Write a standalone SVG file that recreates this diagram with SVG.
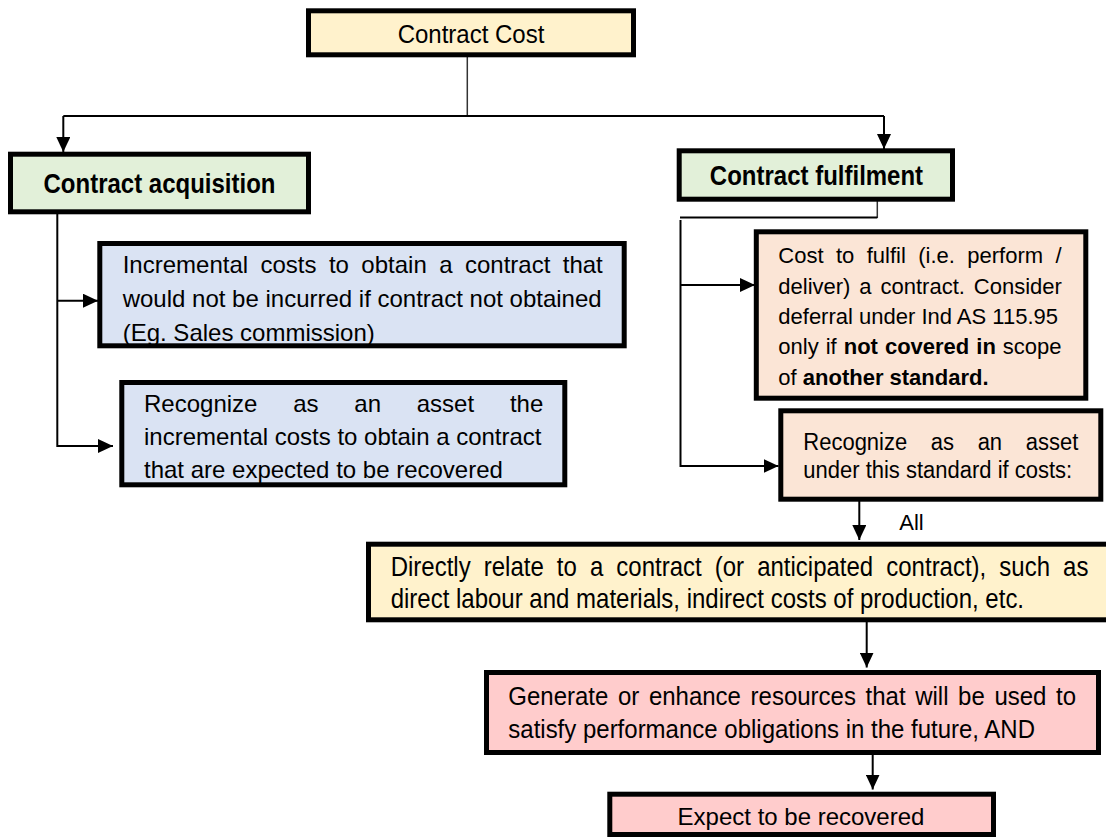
<svg xmlns="http://www.w3.org/2000/svg" width="1106" height="838" viewBox="0 0 1106 838">
<style>
  .box { stroke: #000; stroke-width: 5; }
  .yellow { fill: #FFF2CC; }
  .green { fill: #E2F0D9; }
  .blue { fill: #DAE3F3; }
  .peach { fill: #FBE5D6; }
  .pink { fill: #FFCCCC; }
  text { font-family: "Liberation Sans", Arial, sans-serif; fill: #000; }
  .t24 { font-size: 24px; }
  .t22 { font-size: 22px; }
  .b { font-weight: bold; }
  .mid { text-anchor: middle; }
  .conn { stroke: #000; stroke-width: 2; fill: none; }
  .thin { stroke: #333; stroke-width: 1.5; fill: none; }
</style>
<defs>
  <marker id="arr" markerUnits="userSpaceOnUse" markerWidth="15" markerHeight="14" refX="15" refY="7" orient="auto">
    <path d="M0,0 L15,7 L0,14 Z" fill="#000"/>
  </marker>
</defs>
<rect width="1106" height="838" fill="#fff"/>

<g id="connectors">
  <line class="thin" x1="467.3" y1="57" x2="467.3" y2="116"/>
  <line class="conn" x1="63.3" y1="116" x2="884" y2="116"/>
  <line class="conn" x1="63.3" y1="116" x2="63.3" y2="152" marker-end="url(#arr)"/>
  <line class="conn" x1="884" y1="116" x2="884" y2="149" marker-end="url(#arr)"/>
  <line class="conn" x1="57.3" y1="214" x2="57.3" y2="447"/>
  <line class="conn" x1="57.3" y1="300.7" x2="98" y2="300.7" marker-end="url(#arr)"/>
  <line class="conn" x1="57.3" y1="446" x2="113" y2="446" marker-end="url(#arr)"/>
  <line class="thin" x1="877.3" y1="201" x2="877.3" y2="218"/>
  <line class="conn" x1="680" y1="217.5" x2="877.3" y2="217.5"/>
  <line class="conn" x1="680.5" y1="220" x2="680.5" y2="467"/>
  <line class="conn" x1="680.5" y1="285" x2="755" y2="285" marker-end="url(#arr)"/>
  <line class="conn" x1="680.5" y1="466" x2="778.5" y2="466" marker-end="url(#arr)"/>
  <line class="conn" x1="859.3" y1="501" x2="859.3" y2="540" marker-end="url(#arr)"/>
  <line class="conn" x1="866.7" y1="622" x2="866.7" y2="667.5" marker-end="url(#arr)"/>
  <line class="conn" x1="872.7" y1="755" x2="872.7" y2="789.5" marker-end="url(#arr)"/>
</g>

<g id="contract-cost">
  <rect class="box yellow" x="308.5" y="10.8" width="325" height="44"/>
  <text class="t24 mid" x="471" y="43.3" transform="matrix(1,0,0,1.06,0,-2.6)">Contract Cost</text>
</g>

<g id="contract-acquisition">
  <rect class="box green" x="10.5" y="154.2" width="298" height="57.6"/>
  <text class="t24 b mid" x="159.5" y="193.3" transform="matrix(1,0,0,1.12,0,-23.2)">Contract acquisition</text>
</g>

<g id="contract-fulfilment">
  <rect class="box green" x="679.2" y="150.8" width="273.3" height="48.4"/>
  <text class="t24 b mid" x="816.5" y="185" transform="matrix(1,0,0,1.12,0,-22.2)">Contract fulfilment</text>
</g>

<g id="incremental-costs">
  <rect class="box blue" x="99.8" y="243.5" width="524.4" height="102.3"/>
  <text class="t24" x="122.7" y="272.7" word-spacing="5.75">Incremental costs to obtain a contract that</text>
  <text class="t24" x="122.7" y="306.7">would not be incurred if contract not obtained</text>
  <text class="t24" x="122.7" y="340.7">(Eg. Sales commission)</text>
</g>

<g id="recognize-acquisition">
  <rect class="box blue" x="121.8" y="382.5" width="443" height="102.3"/>
  <text class="t24" x="144" y="411.7" word-spacing="29.1">Recognize as an asset the</text>
  <text class="t24" x="144" y="445">incremental costs to obtain a contract</text>
  <text class="t24" x="144" y="478.3">that are expected to be recovered</text>
</g>

<g id="cost-to-fulfil">
  <rect class="box peach" x="756.3" y="231.8" width="329.5" height="166.4"/>
  <text class="t22" x="778.3" y="263.3" word-spacing="6.3">Cost to fulfil (i.e. perform /</text>
  <text class="t22" x="778.3" y="294" word-spacing="2.8">deliver) a contract. Consider</text>
  <text class="t22" x="778.3" y="324.3">deferral under Ind AS 115.95</text>
  <text class="t22" x="778.3" y="354.3" word-spacing="0.9">only if <tspan class="b">not covered in</tspan> scope</text>
  <text class="t22" x="778.3" y="385">of <tspan class="b">another standard.</tspan></text>
</g>

<g id="recognize-fulfilment">
  <rect class="box peach" x="780.8" y="410.8" width="320" height="88.4"/>
  <text class="t22" x="803.3" y="450" word-spacing="17.5" transform="matrix(1,0,0,1.12,0,-54)">Recognize as an asset</text>
  <text class="t22" x="803.3" y="478.3" transform="matrix(1,0,0,1.12,0,-57.4)">under this standard if costs:</text>
</g>

<g id="label-all">
  <text class="t22" x="899.3" y="530">All</text>
</g>

<g id="directly-relate">
  <rect class="box yellow" x="368.5" y="544.2" width="745" height="75.6"/>
  <text class="t24" x="390.7" y="576" word-spacing="6.42" transform="matrix(1,0,0,1.12,0,-69.1)">Directly relate to a contract (or anticipated contract), such as</text>
  <text class="t24" x="390.7" y="608.3" transform="matrix(1,0,0,1.12,0,-73)">direct labour and materials, indirect costs of production, etc.</text>
</g>

<g id="generate-resources">
  <rect class="box pink" x="486.5" y="672.5" width="612" height="80"/>
  <text class="t24" x="508.3" y="705" word-spacing="2.96" transform="matrix(1,0,0,1.1,0,-70.5)">Generate or enhance resources that will be used to</text>
  <text class="t24" x="508.3" y="738.3" transform="matrix(1,0,0,1.1,0,-73.83)">satisfy performance obligations in the future, AND</text>
</g>

<g id="expect-recovered">
  <rect class="box pink" x="609.8" y="794.2" width="383.7" height="40.3"/>
  <text class="t24 mid" x="801" y="825">Expect to be recovered</text>
</g>
</svg>
